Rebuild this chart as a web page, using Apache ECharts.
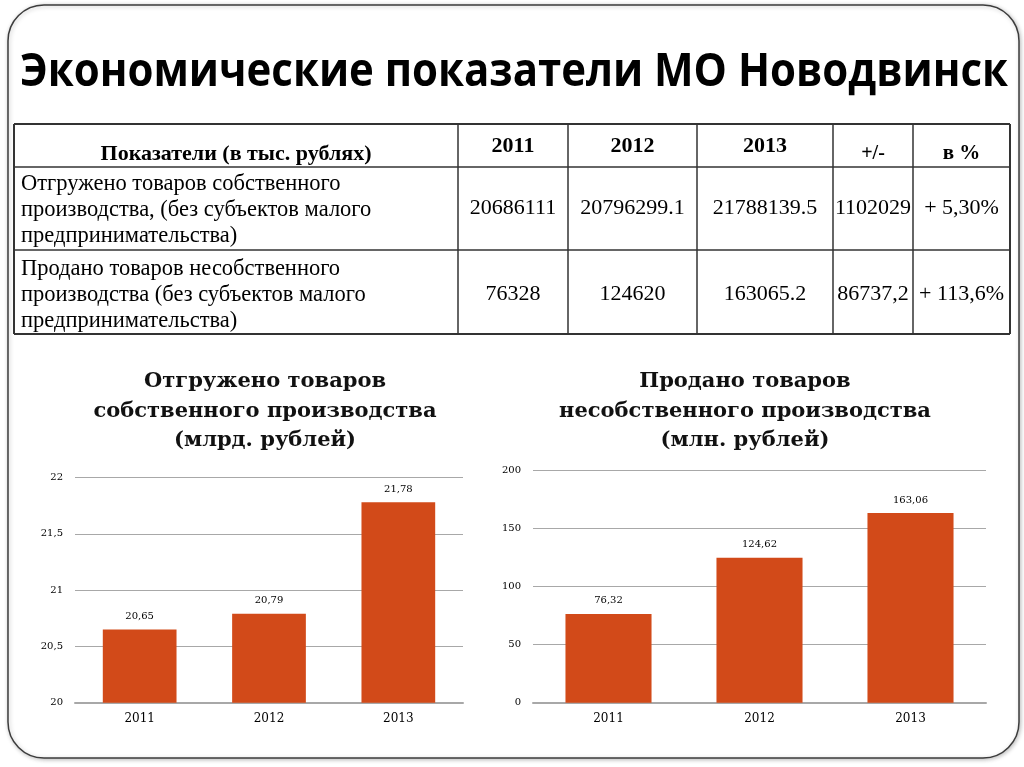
<!DOCTYPE html>
<html>
<head>
<meta charset="utf-8">
<script src="https://cdn.jsdelivr.net/npm/echarts@6/dist/echarts.min.js"></script>
<style>
html,body{margin:0;padding:0;background:#fff;}
#c{width:1024px;height:767px;}
</style>
</head>
<body>
<div id="c"></div>
<script>
// ---- data ----
const years = ['2011', '2012', '2013'];
const shippedOwn = [20.65, 20.79, 21.78];     // млрд. рублей
const soldOther = [76.32, 124.62, 163.06];    // млн. рублей
const mainTitle = 'Экономические показатели МО Новодвинск';
const chartTitle1 = 'Отгружено товаров\nсобственного производства\n(млрд. рублей)';
const chartTitle2 = 'Продано товаров\nнесобственного производства\n(млн. рублей)';
const tableHeader = ['Показатели (в тыс. рублях)', '2011', '2012', '2013', '+/-', 'в %'];
const row1Label = ['Отгружено товаров собственного', 'производства, (без субъектов малого', 'предпринимательства)'];
const row1Values = ['20686111', '20796299.1', '21788139.5', '1102029', '+ 5,30%'];
const row2Label = ['Продано товаров несобственного', 'производства (без субъектов малого', 'предпринимательства)'];
const row2Values = ['76328', '124620', '163065.2', '86737,2', '+ 113,6%'];

// ---- layout ----
const colX = [14, 458, 568, 697, 833, 913, 1010];
const rowY = [124, 167, 250, 334];
const SERIF = '"Liberation Serif", "Times New Roman", serif';
const SMALL = '"DejaVu Serif", serif';
const BAR = '#D24A19';
const GRIDC = '#a8a8a8';

// main title sized to span the reference width
const TITLE_FONT = 'bold 46px "Open Sans", sans-serif';
const mctx = document.createElement('canvas').getContext('2d');
mctx.font = TITLE_FONT;
const titleScale = 988 / mctx.measureText(mainTitle).width;

const g = [];
// slide frame
g.push({type:'rect', shape:{x:8, y:5, width:1011, height:753, r:36},
  style:{fill:'#fff', stroke:'#3c3c3c', lineWidth:1.5, shadowBlur:4, shadowColor:'rgba(0,0,0,0.25)', shadowOffsetX:1, shadowOffsetY:1}, z:-10});
// main title
g.push({type:'text', x:514, y:73, scaleX:titleScale, originX:0, originY:0,
  style:{text:mainTitle, font:TITLE_FONT, fill:'#000', textAlign:'center', textVerticalAlign:'middle'}});
// table lines
for (let i = 0; i < rowY.length; i++) {
  g.push({type:'line', shape:{x1:colX[0], y1:rowY[i], x2:colX[colX.length-1], y2:rowY[i]},
    style:{stroke:'#333', lineWidth:(i===0||i===rowY.length-1)?2:1.5}});
}
for (let j = 0; j < colX.length; j++) {
  g.push({type:'line', shape:{x1:colX[j], y1:rowY[0], x2:colX[j], y2:rowY[rowY.length-1]},
    style:{stroke:'#333', lineWidth:(j===0||j===colX.length-1)?2:1.5}});
}
const mid = j => (colX[j] + colX[j+1]) / 2;
// header
g.push({type:'text', x:mid(0), y:154, style:{text:tableHeader[0], font:'bold 22px '+SERIF, fill:'#000', textAlign:'center', textVerticalAlign:'middle'}});
for (let j = 1; j <= 3; j++) {
  g.push({type:'text', x:mid(j), y:146, style:{text:tableHeader[j], font:'bold 22px '+SERIF, fill:'#000', textAlign:'center', textVerticalAlign:'middle'}});
}
g.push({type:'text', x:mid(4), y:154, style:{text:tableHeader[4], font:'bold 20px '+SERIF, fill:'#000', textAlign:'center', textVerticalAlign:'middle'}});
g.push({type:'text', x:mid(5), y:154, style:{text:tableHeader[5], font:'bold 21px '+SERIF, fill:'#000', textAlign:'center', textVerticalAlign:'middle'}});
// rows
function addRow(label, values, yTop, yVal) {
  label.forEach((t, k) => {
    g.push({type:'text', x:21, y:yTop + k*26, style:{text:t, font:'22.5px '+SERIF, fill:'#000', textAlign:'left', textVerticalAlign:'middle'}});
  });
  values.forEach((t, k) => {
    g.push({type:'text', x:mid(k+1), y:yVal, style:{text:t, font:'22px '+SERIF, fill:'#000', textAlign:'center', textVerticalAlign:'middle'}});
  });
}
addRow(row1Label, row1Values, 184, 208);
addRow(row2Label, row2Values, 269, 294);
// chart titles
const TFONT = 'bold 21px "DejaVu Serif", serif';
g.push({type:'text', x:265, y:367, style:{text:chartTitle1, font:TFONT, lineHeight:29.5, fill:'#111', textAlign:'center', textVerticalAlign:'top'}});
g.push({type:'text', x:745, y:367, style:{text:chartTitle2, font:TFONT, lineHeight:29.5, fill:'#111', textAlign:'center', textVerticalAlign:'top'}});

const comma = v => String(v).replace('.', ',');

function xAx(i) {
  return {gridIndex:i, type:'category', data:years,
    axisTick:{show:false},
    axisLine:{lineStyle:{color:GRIDC, width:2}},
    axisLabel:{color:'#000', fontFamily:SMALL, fontSize:12, margin:10}};
}
function yAx(i, min, max, step) {
  return {gridIndex:i, type:'value', min:min, max:max, interval:step,
    axisLine:{show:false}, axisTick:{show:false},
    splitLine:{lineStyle:{color:GRIDC, width:1}},
    axisLabel:{color:'#000', fontFamily:SMALL, fontSize:10, margin:12, formatter:comma}};
}
function barS(i, data) {
  return {type:'bar', xAxisIndex:i, yAxisIndex:i, data:data, barWidth:'57%',
    itemStyle:{color:BAR},
    label:{show:true, position:'top', distance:8, color:'#000', fontFamily:SMALL, fontSize:10,
      formatter:p => p.value.toFixed(2).replace('.', ',')}};
}

const chart = echarts.init(document.getElementById('c'), null, {renderer:'canvas'});
chart.setOption({
  animation:false,
  backgroundColor:'#fff',
  grid:[
    {left:75, right:1024-463, top:477.5, bottom:767-702.7},
    {left:533, right:1024-986, top:470, bottom:767-702.7}
  ],
  xAxis:[xAx(0), xAx(1)],
  yAxis:[yAx(0, 20, 22, 0.5), yAx(1, 0, 200, 50)],
  series:[barS(0, shippedOwn), barS(1, soldOther)],
  graphic:g
});
</script>
</body>
</html>
